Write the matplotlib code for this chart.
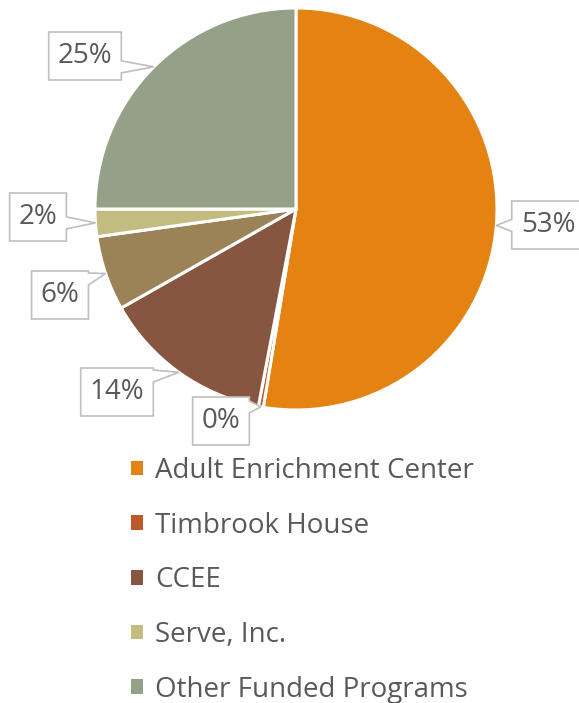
import matplotlib
matplotlib.use('Agg')
import matplotlib.pyplot as plt
from matplotlib.patches import Polygon, Patch
import numpy as np

# data
categories = ['Adult Enrichment Center', 'Timbrook House', 'CCEE', 'Other Sites',
              'Serve, Inc.', 'Other Funded Programs']
shares = [52.6, 0.4, 13.8, 6.0, 2.2, 25.0]
colors = ['#E48312', '#BD582C', '#865640', '#9B8357', '#C2BC80', '#94A088']
legend_items = [0, 1, 2, 4, 5]

# layout (pixels, y down)
W, H = 579, 703
center = (296, 209)
radius = 201
label_xy = [(548, 225), (221, 421), (117, 392), (60, 295), (38, 217), (85, 56)]
text_color = '#595959'
font = 'Open Sans'

fig = plt.figure(figsize=(W / 100, H / 100), dpi=100)
ax = fig.add_axes([0, 0, 1, 1])

# y axis inverted, so counterclock=True shows clockwise from the top
wedges, _ = ax.pie(shares, colors=colors, startangle=-90, counterclock=True,
                   center=center, radius=radius,
                   wedgeprops=dict(edgecolor='white', linewidth=2.2))
ax.set_xlim(0, W)
ax.set_ylim(H, 0)
ax.set_aspect('equal')
ax.axis('off')

renderer = fig.canvas.get_renderer()
total = sum(shares)
cum = 0
for i, v in enumerate(shares):
  mid = -90 + 360 * (cum + v / 2) / total
  cum += v
  tip = (center[0] + radius * np.cos(np.radians(mid)),
         center[1] + radius * np.sin(np.radians(mid)))
  lx, ly = label_xy[i]
  t = ax.text(lx, ly, '%d%%' % round(v), ha='center', va='center',
              fontsize=20, family=font, color=text_color, zorder=5)
  bb = t.get_window_extent(renderer)
  hw = bb.width / 2 + 9
  hh = 24
  x0, x1, y0, y1 = lx - hw, lx + hw, ly - hh, ly + hh
  tx, ty = tip
  if tx > x1:
    b = min(max(ty, y0 + 8), y1 - 8)
    pts = [(x0, y0), (x1, y0), (x1, b - 6), tip, (x1, b + 6), (x1, y1), (x0, y1)]
  elif tx < x0:
    b = min(max(ty, y0 + 8), y1 - 8)
    pts = [(x0, y0), (x1, y0), (x1, y1), (x0, y1), (x0, b + 6), tip, (x0, b - 6)]
  elif ty < y0:
    b = min(max(tx, x0 + 8), x1 - 8)
    pts = [(x0, y0), (b - 6, y0), tip, (b + 6, y0), (x1, y0), (x1, y1), (x0, y1)]
  else:
    b = min(max(tx, x0 + 8), x1 - 8)
    pts = [(x0, y0), (x1, y0), (x1, y1), (b + 6, y1), tip, (b - 6, y1), (x0, y1)]
  ax.add_patch(Polygon(pts, closed=True, facecolor='white', edgecolor='#BFBFBF',
                       linewidth=1.2, zorder=4))

handles = [Patch(facecolor=colors[i], edgecolor='none') for i in legend_items]
labels = [categories[i] for i in legend_items]
leg = ax.legend(handles, labels, loc='upper left', bbox_to_anchor=(131 / W, 1 - 457 / H),
                bbox_transform=fig.transFigure, frameon=False, borderpad=0,
                borderaxespad=0, handlelength=0.43, handleheight=0.43,
                handletextpad=0.43, labelspacing=0.96,
                prop={'family': font, 'size': 20})
for txt in leg.get_texts():
  txt.set_color(text_color)

fig.savefig('out.png', dpi=100)
